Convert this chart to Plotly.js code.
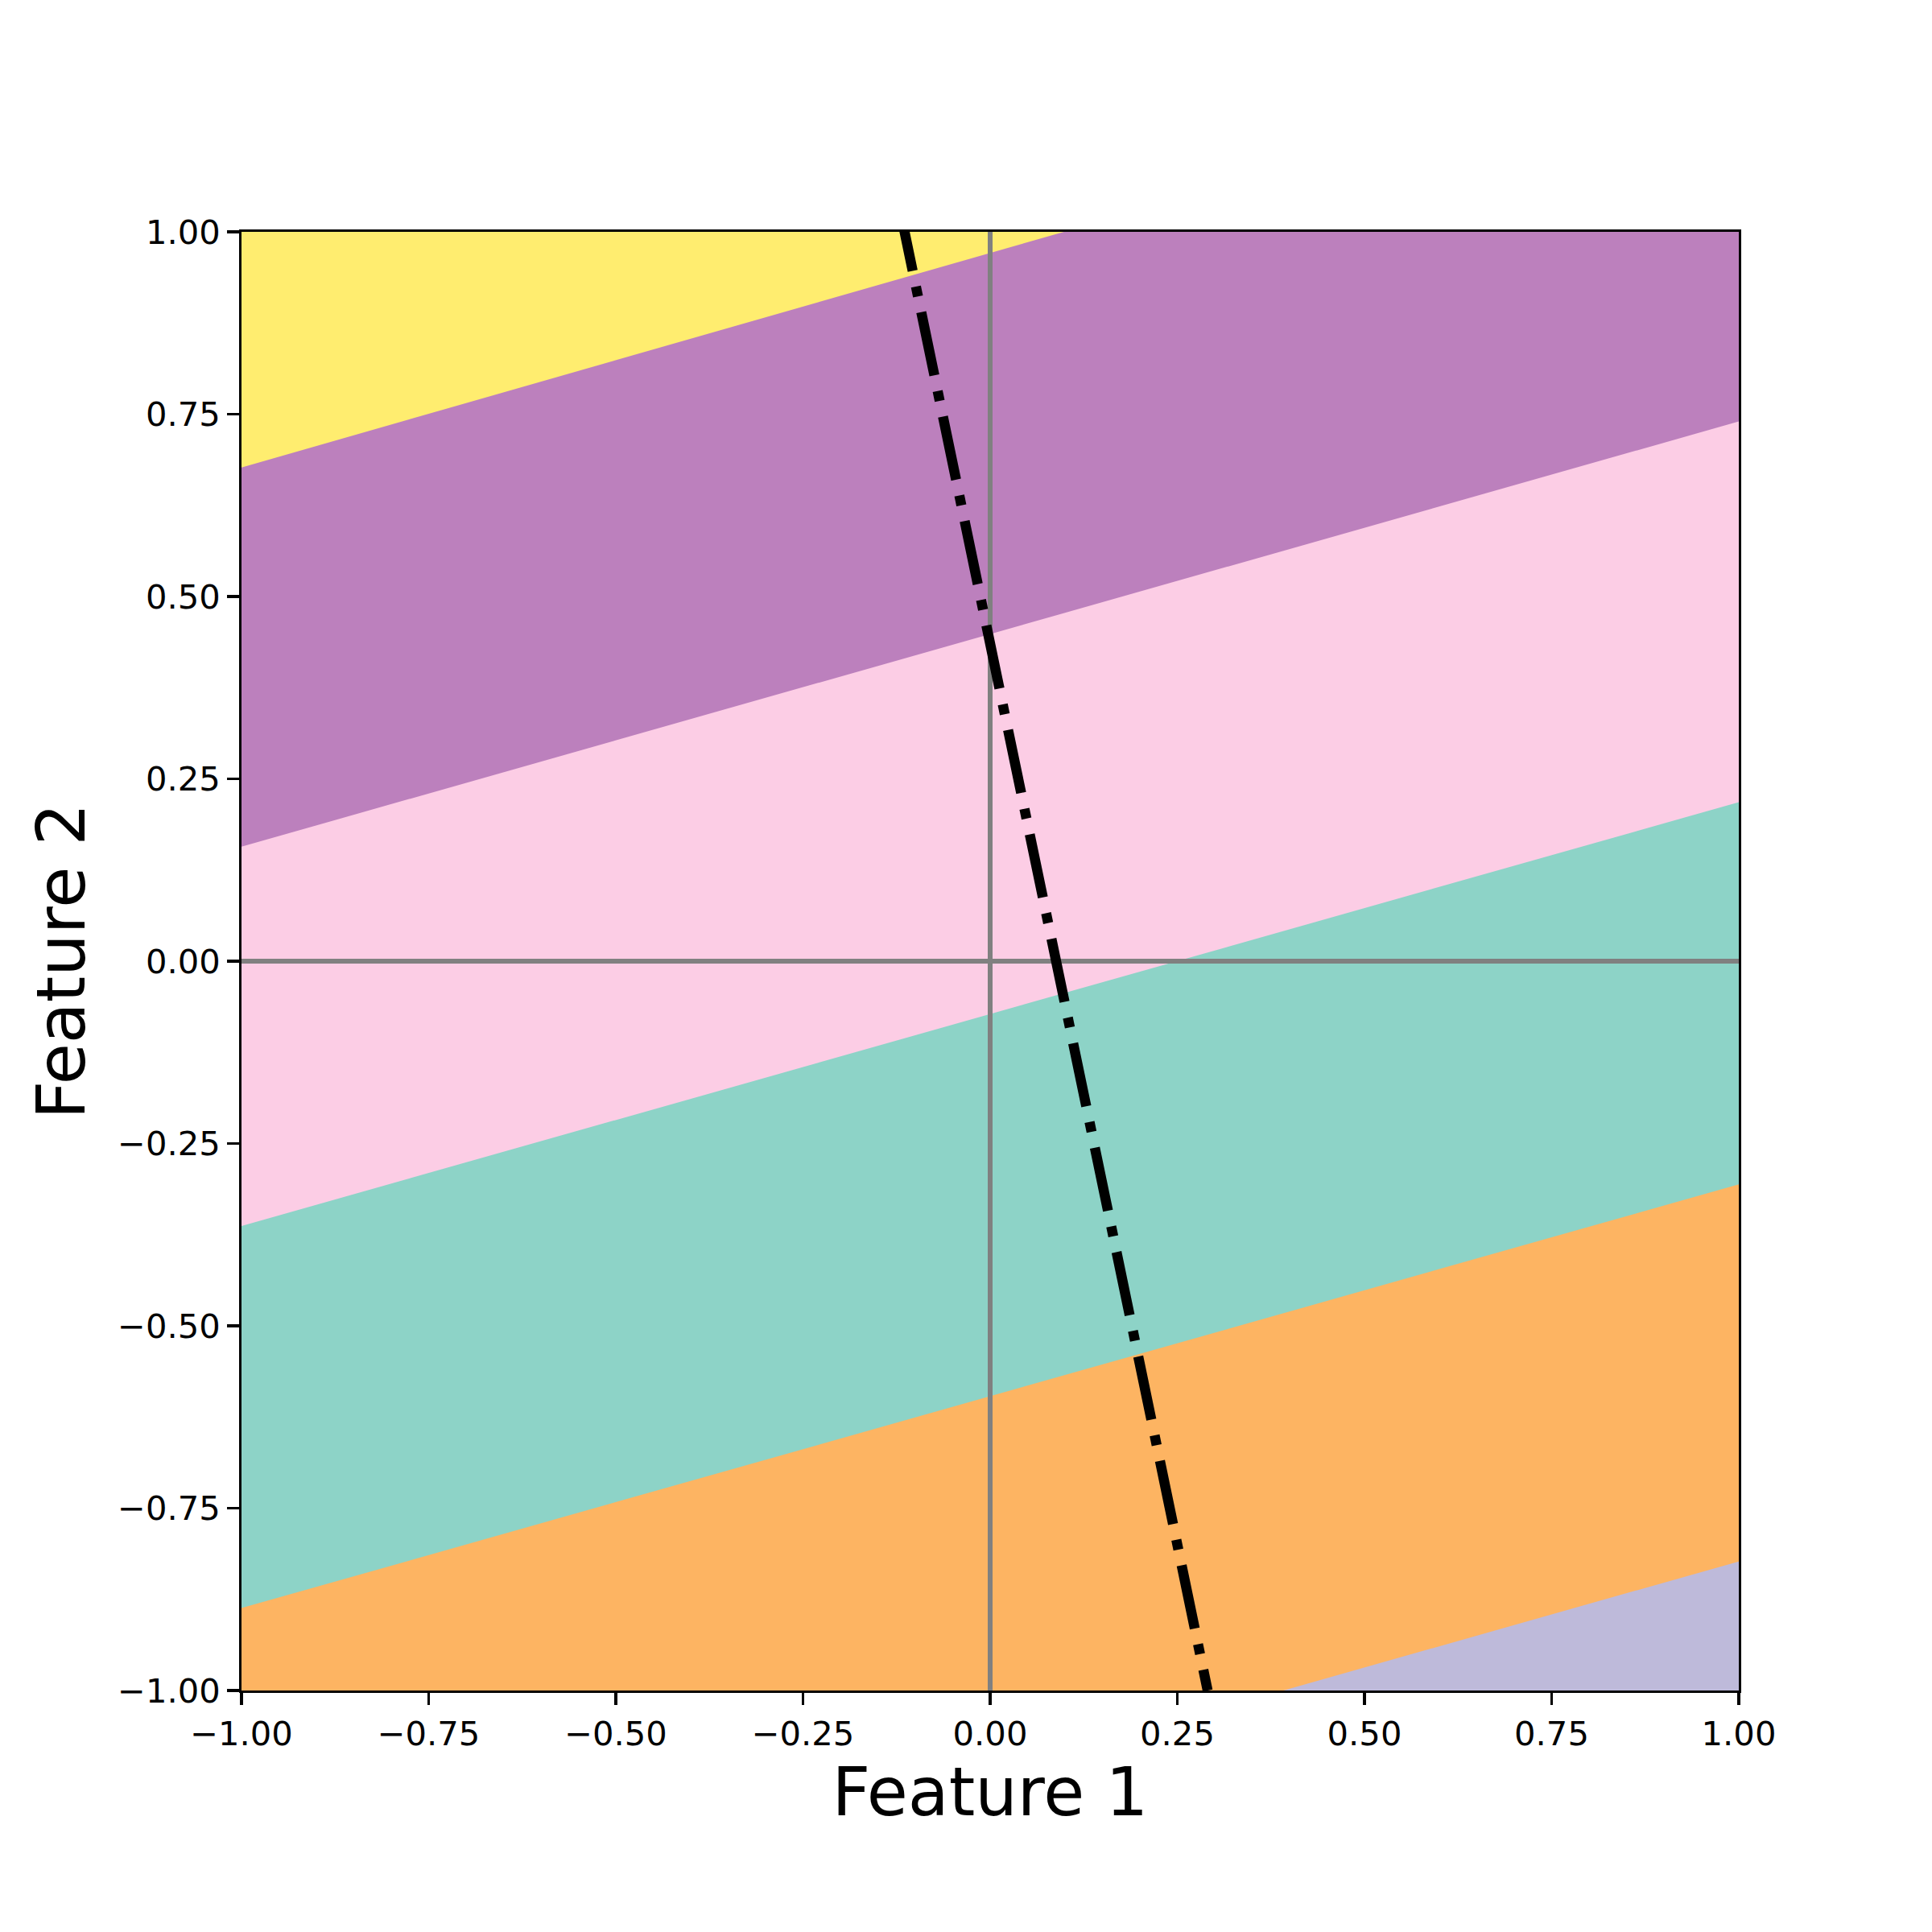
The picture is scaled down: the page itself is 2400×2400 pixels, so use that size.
<!DOCTYPE html>
<html>
<head>
<meta charset="utf-8">
<script src="https://cdn.plot.ly/plotly-3.0.1.min.js"></script>
<style>html,body{margin:0;padding:0;background:#fff;}</style>
</head>
<body>
<div id="chart" style="width:2400px;height:2400px;"></div>
<script>
// Axis extent
const xRange = [-1, 1];
const yRange = [-1, 1];

// Region colours, top band first (Set3 colours)
const bandColors = ['#ffed6f', '#bc80bd', '#fccde5', '#8dd3c7', '#fdb462', '#bebada'];
// Boundary lines between consecutive bands: Feature 2 value at Feature 1 = -1 and at Feature 1 = +1
const boundaryAtLeft  = [0.677, 0.157, -0.363, -0.887, -1.405];
const boundaryAtRight = [1.265, 0.740, 0.218, -0.306, -0.823];

// Dash-dot separating line
const sepLineX = [-0.121, 0.2905];
const sepLineY = [1.033, -1];

// Reference axes lines (through origin)
const originX = [0, 0];
const originY = [0, 0];

// Ticks
const tickVals = [-1, -0.75, -0.5, -0.25, 0, 0.25, 0.5, 0.75, 1];
const tickText = ['\u22121.00', '\u22120.75', '\u22120.50', '\u22120.25', '0.00', '0.25', '0.50', '0.75', '1.00'];

const traces = [];
// Background band (top class) over the full plotting area
traces.push({
  type: 'scatter', mode: 'lines', hoverinfo: 'skip', showlegend: false,
  x: [xRange[0], xRange[1], xRange[1], xRange[0], xRange[0]],
  y: [yRange[0], yRange[0], yRange[1], yRange[1], yRange[0]],
  fill: 'toself', fillcolor: bandColors[0], line: {width: 0}
});
// Each following band covers everything below its upper boundary
for (let i = 0; i < boundaryAtLeft.length; i++) {
  traces.push({
    type: 'scatter', mode: 'lines', hoverinfo: 'skip', showlegend: false,
    x: [xRange[0], xRange[1], xRange[1], xRange[0], xRange[0]],
    y: [boundaryAtLeft[i], boundaryAtRight[i], yRange[0], yRange[0], boundaryAtLeft[i]],
    fill: 'toself', fillcolor: bandColors[i + 1], line: {width: 0}
  });
}
// Gray lines through origin
traces.push({
  type: 'scatter', mode: 'lines', hoverinfo: 'skip', showlegend: false,
  x: xRange, y: originY, line: {color: '#808080', width: 6}
});
traces.push({
  type: 'scatter', mode: 'lines', hoverinfo: 'skip', showlegend: false,
  x: originX, y: yRange, line: {color: '#808080', width: 6}
});
// Dash-dot line
traces.push({
  type: 'scatter', mode: 'lines', hoverinfo: 'skip', showlegend: false,
  x: sepLineX, y: sepLineY,
  line: {color: '#000000', width: 12.5, dash: '80px,20px,12.5px,20px'}
});

const tickFont = {family: 'DejaVu Sans', size: 41.7, color: '#000'};
const titleFont = {family: 'DejaVu Sans', size: 83, color: '#000'};

const layout = {
  width: 2400, height: 2400,
  margin: {l: 300, r: 240, t: 288, b: 300, pad: 0},
  paper_bgcolor: '#ffffff', plot_bgcolor: '#ffffff',
  showlegend: false,
  xaxis: {
    range: xRange, autorange: false, zeroline: false, showgrid: false,
    showline: true, linecolor: '#000', linewidth: 3.3, mirror: true,
    ticks: 'outside', ticklen: 14.6, tickwidth: 3.3, tickcolor: '#000',
    tickmode: 'array', tickvals: tickVals, ticktext: tickText,
    tickfont: tickFont,
    title: {text: 'Feature 1', font: titleFont, standoff: 15}
  },
  yaxis: {
    range: yRange, autorange: false, zeroline: false, showgrid: false,
    showline: true, linecolor: '#000', linewidth: 3.3, mirror: true,
    ticks: 'outside', ticklen: 14.6, tickwidth: 3.3, tickcolor: '#000',
    tickmode: 'array', tickvals: tickVals, ticktext: tickText,
    tickfont: tickFont,
    title: {text: 'Feature 2', font: titleFont, standoff: 14}
  }
};

Plotly.newPlot('chart', traces, layout, {staticPlot: true, displayModeBar: false});
</script>
</body>
</html>
